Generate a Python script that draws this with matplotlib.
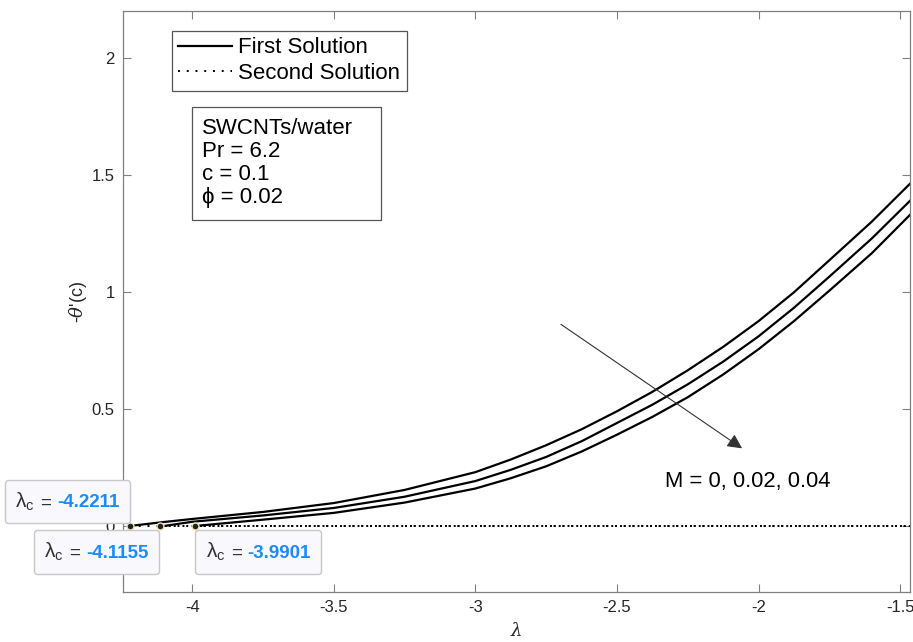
import numpy as np
import matplotlib
matplotlib.use("Agg")
import matplotlib.pyplot as plt
from matplotlib.patches import Rectangle
from matplotlib.offsetbox import TextArea, HPacker, AnnotationBbox

plt.rcParams['font.family'] = ['Liberation Sans', 'DejaVu Sans']
plt.rcParams['mathtext.fontset'] = 'custom'
plt.rcParams['mathtext.rm'] = 'Liberation Sans'
plt.rcParams['mathtext.it'] = 'DejaVu Serif:italic'

# critical points (turning points) for M = 0, 0.02, 0.04
lam_c = [-4.2211, -4.1155, -3.9901]
lam_c_txt = ['-4.2211', '-4.1155', '-3.9901']

# first solution
lam_first = [-4.1, -4.0, -3.75, -3.5, -3.25, -3.0, -2.875, -2.75, -2.625, -2.5, -2.375,
             -2.25, -2.125, -2.0, -1.875, -1.75, -1.6, -1.465]
first_M0 = [0.017, 0.03, 0.06, 0.098, 0.154, 0.23, 0.284, 0.345, 0.413, 0.49, 0.573,
            0.665, 0.765, 0.875, 0.998, 1.135, 1.30, 1.462]
first_M002 = [0.0, 0.018, 0.045, 0.077, 0.125, 0.192, 0.24, 0.295, 0.362, 0.44, 0.518,
              0.605, 0.702, 0.81, 0.932, 1.065, 1.228, 1.389]
first_M004 = [0.0, 0.0, 0.027, 0.056, 0.10, 0.16, 0.204, 0.255, 0.318, 0.39, 0.466,
              0.55, 0.647, 0.755, 0.875, 1.005, 1.165, 1.329]

# second solution (stays near zero)
lam_second_end = -1.465
second_val = [0.0, 0.0]

fig = plt.figure(figsize=(9.13, 6.42), dpi=100)
ax = fig.add_axes([0.1347, 0.0779, 0.862, 0.905])

firsts = [first_M0, first_M002, first_M004]
for k in range(3):
    xs = [lam_c[k]] + [l for l in lam_first if l > lam_c[k]]
    ys = [0.0] + [v for l, v in zip(lam_first, firsts[k]) if l > lam_c[k]]
    ax.plot(xs, ys, color='black', lw=1.6,
            label='First Solution' if k == 0 else None)
    ax.plot([lam_c[k], lam_second_end], second_val, color='black', lw=1.4,
            linestyle=(0, (1, 3.5)), label='Second Solution' if k == 0 else None)

ax.set_xlim(-4.245, -1.465)
ax.set_ylim(-0.282, 2.2)
ax.set_xticks([-4, -3.5, -3, -2.5, -2, -1.5])
ax.set_xticklabels(['-4', '-3.5', '-3', '-2.5', '-2', '-1.5'])
ax.set_yticks([0, 0.5, 1, 1.5, 2])
ax.set_yticklabels(['0', '0.5', '1', '1.5', '2'])
ax.tick_params(direction='in', length=6, width=0.8, top=True, right=True,
               labelsize=12, colors='#808080', labelcolor='#262626', pad=6)
for s in ax.spines.values():
    s.set_color('#808080')
    s.set_linewidth(0.9)

ax.set_xlabel(r'$\lambda$', fontsize=13, color='#262626', labelpad=5)
ax.set_ylabel(r"-$\theta$'(c)", fontsize=13, color='#262626', labelpad=2)

leg = ax.legend(loc='upper left', bbox_to_anchor=(0.062, 0.966), borderaxespad=0,
                fontsize=16, handlelength=2.4, handletextpad=0.3, fancybox=False,
                framealpha=1, edgecolor='#555555', borderpad=0.3, labelspacing=0.2)
leg.get_frame().set_linewidth(0.9)

# parameter box
ax.add_patch(Rectangle((0.0877, 0.641), 0.240, 0.194, transform=ax.transAxes,
                       fill=False, edgecolor='#555555', lw=0.9))
ax.text(0.101, 0.815, 'SWCNTs/water\nPr = 6.2\nc = 0.1\n\u03d5 = 0.02',
        transform=ax.transAxes, fontsize=16, va='top', ha='left', linespacing=1.12)

# arrow and M label
ax.annotate('', xy=(-2.05, 0.325), xytext=(-2.706, 0.868),
            arrowprops=dict(arrowstyle='-|>', color='#333333', lw=0.8, mutation_scale=22))
ax.text(-2.039, 0.192, 'M = 0, 0.02, 0.04', fontsize=15.8, ha='center', va='center')

# datatips
offsets = [(-45, 17.6), (-45.5, -18.7), (45.5, -18.7)]
for k in range(3):
    ax.plot(lam_c[k], 0, 'o', ms=5, mfc='#222222', mec='#eee4b0', mew=1,
            zorder=6, clip_on=False)
    t1 = TextArea(r'$\mathrm{\lambda_c}$', textprops=dict(color='#333333', fontsize=15))
    t0 = TextArea('=', textprops=dict(color='#333333', fontsize=13.5))
    t2 = TextArea(lam_c_txt[k], textprops=dict(color='#1a8cff', fontsize=13.5,
                                               fontweight='bold'))
    box = HPacker(children=[t1, t0, t2], align='baseline', pad=0, sep=4)
    ab = AnnotationBbox(box, (lam_c[k], 0), xybox=offsets[k], boxcoords='offset points',
                        frameon=True, pad=0.5, annotation_clip=False,
                        bboxprops=dict(boxstyle='round,pad=0.75,rounding_size=0.2',
                                       fc='#f8f8fd', ec='#c8c8c8', lw=1))
    ab.set_zorder(10)
    ax.add_artist(ab)

fig.savefig('out.png', dpi=100)
